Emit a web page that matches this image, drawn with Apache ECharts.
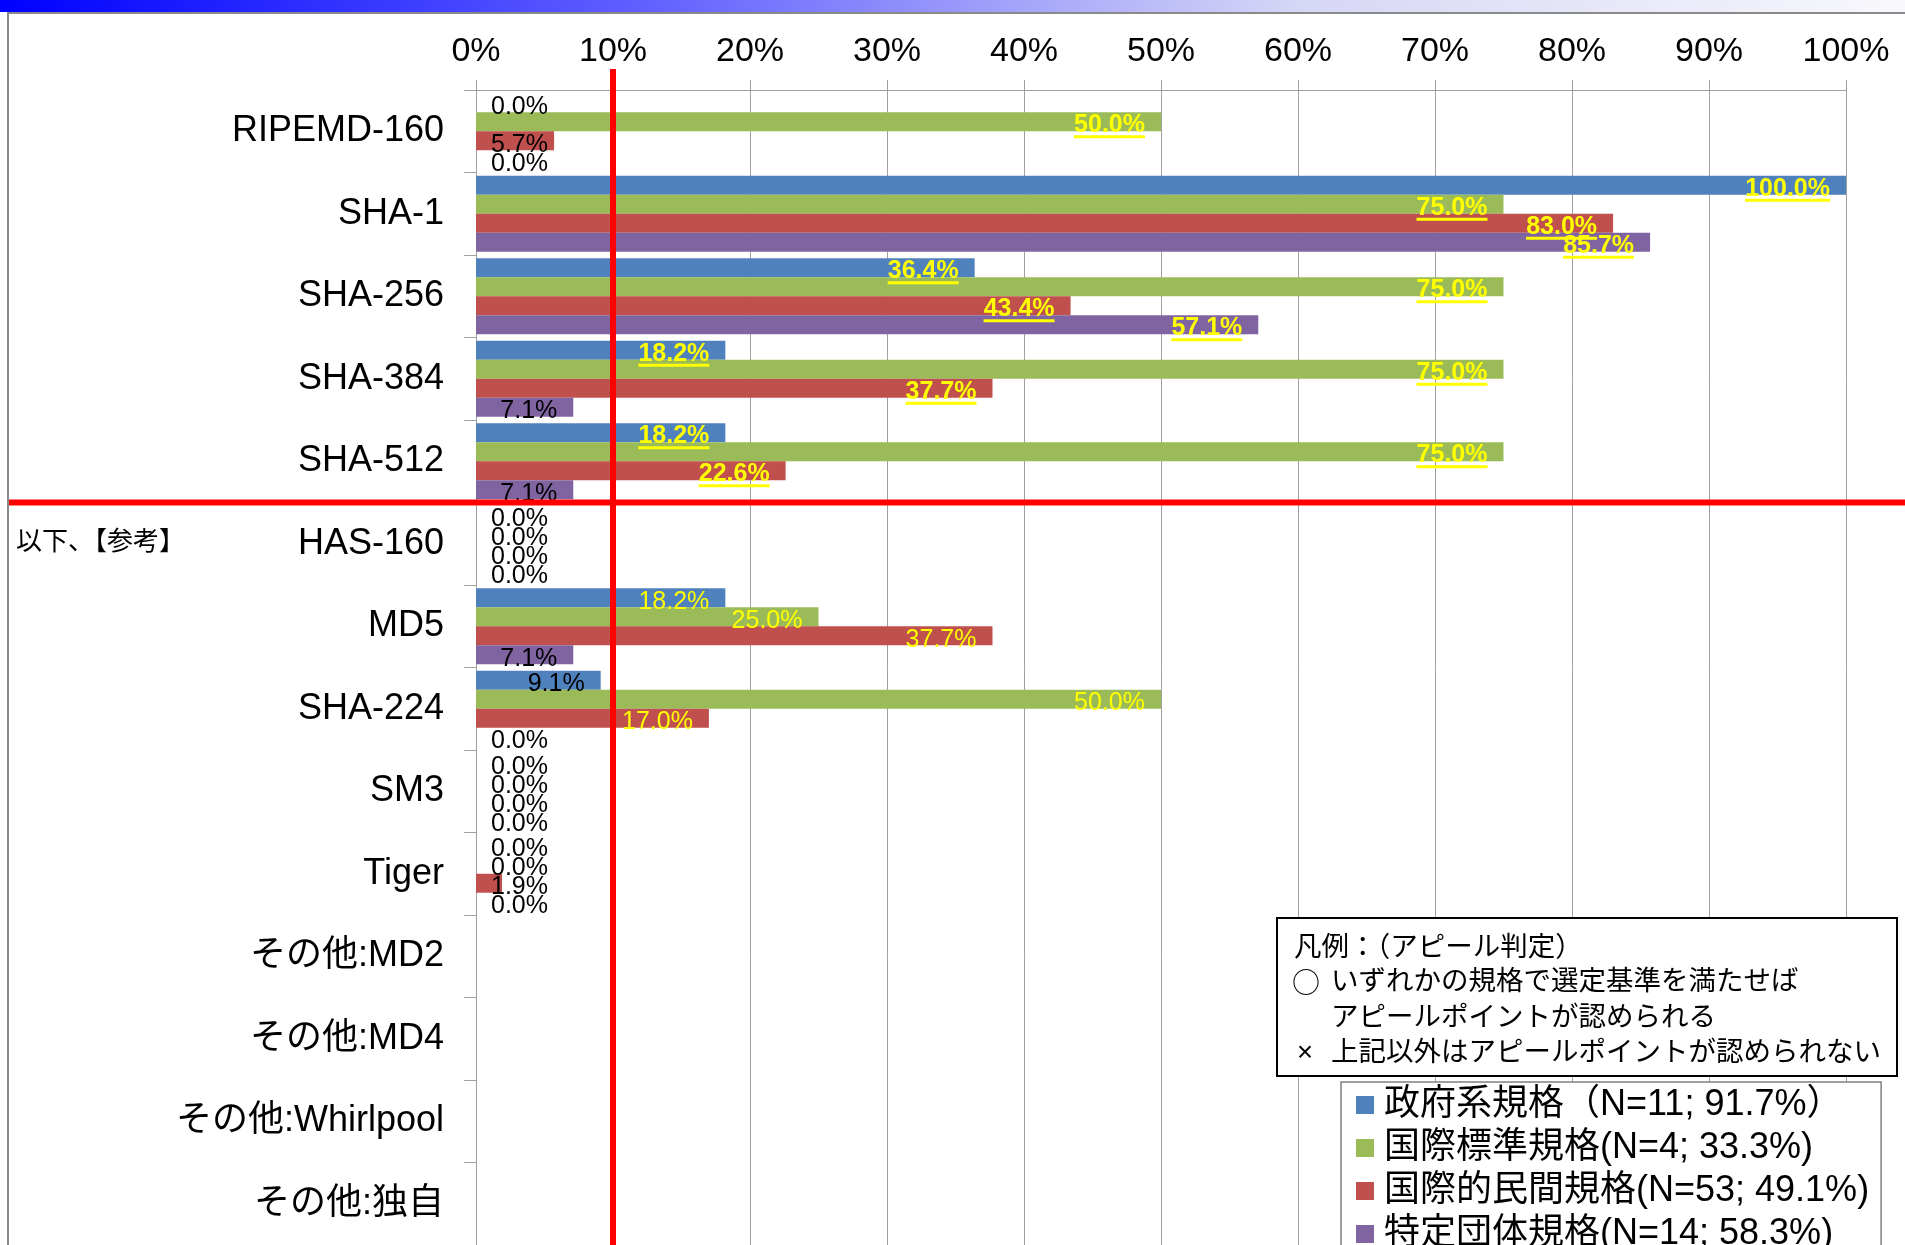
<!DOCTYPE html>
<html>
<head>
<meta charset="utf-8">
<title>ハッシュ関数 アピール判定</title>
<script src="https://cdn.jsdelivr.net/npm/echarts@6/dist/echarts.min.js"></script>
<style>
  html, body { margin: 0; padding: 0; background: #fff; }
  #chart { width: 1905px; height: 1245px; }
</style>
</head>
<body>
<div id="chart"></div>
<script>
const categories = [
  'RIPEMD-160', 'SHA-1', 'SHA-256', 'SHA-384', 'SHA-512',
  'HAS-160', 'MD5', 'SHA-224', 'SM3', 'Tiger',
  'その他：MD2', 'その他：MD4', 'その他：Whirlpool', 'その他：独自'
];
const seriesNames = [
  '政府系規格（N=11; 91.7%）',
  '国際標準規格(N=4; 33.3%)',
  '国際的民間規格(N=53; 49.1%)',
  '特定団体規格(N=14; 58.3%)'
];
const govValues  = [0, 100, 36.4, 18.2, 18.2, 0, 18.2, 9.1, 0, 0, null, null, null, null];
const isoValues  = [50, 75, 75, 75, 75, 0, 25.0, 50.0, 0, 0, null, null, null, null];
const privValues = [5.7, 83.0, 43.4, 37.7, 22.6, 0, 37.7, 17.0, 0, 1.9, null, null, null, null];
const orgValues  = [0, 85.7, 57.1, 7.1, 7.1, 0, 7.1, 0, 0, 0, null, null, null, null];
const noteLines = [
  '凡例：（アピール判定）',
  'いずれかの規格で選定基準を満たせば',
  'アピールポイントが認められる',
  '上記以外はアピールポイントが認められない'
];

const FONT = '"Liberation Sans", Arial, "Noto Sans CJK JP", sans-serif';
const CJK = '"Noto Sans CJK JP", sans-serif';
const colors = ['#4F81BD', '#9BBB59', '#C0504D', '#8064A2'];
const mainCount = 5; // categories above the red line
const YELLOW = '#ffff00';

const chart = echarts.init(document.getElementById('chart'));

const measure = document.createElement('canvas').getContext('2d');
const textWidth = (txt, font) => {
  measure.font = font;
  return Math.ceil(measure.measureText(txt).width);
};

const makeItem = (value, idx) => {
  if (value == null) return '-';
  const txt = value.toFixed(1) + '%';
  if (value < 10) {
    const small = value < 6.5;
    return {
      value,
      label: {
        color: '#000',
        position: small ? 'insideLeft' : 'insideRight',
        distance: small ? 15 : 16,
      },
    };
  }
  if (idx < mainCount) {
    const w = textWidth(txt, 'bold 25px "Liberation Sans"');
    return {
      value,
      label: {
        formatter: '{t|' + txt + '}\n{u|}',
        offset: [0, 5],
        rich: {
          t: { color: YELLOW, fontWeight: 'bold', fontSize: 25, fontFamily: FONT, lineHeight: 20 },
          u: { width: w, height: 3, backgroundColor: YELLOW },
        },
      },
    };
  }
  return { value, label: { color: YELLOW } };
};

const allValues = [govValues, isoValues, privValues, orgValues];
const series = allValues.map((vals, i) => ({
  name: seriesNames[i],
  type: 'bar',
  barGap: '0%',
  barCategoryGap: '8%',
  itemStyle: { color: colors[i] },
  label: {
    show: true,
    position: 'insideRight',
    distance: 16,
    offset: [0, 4],
    fontSize: 25,
    fontFamily: FONT,
    color: YELLOW,
    formatter: p => (typeof p.value === 'number' ? p.value.toFixed(1) + '%' : ''),
  },
  data: vals.map(makeItem),
}));

chart.setOption({
  animation: false,
  backgroundColor: '#fff',
  grid: { left: 476, right: 59, top: 90, bottom: -7 },
  xAxis: {
    type: 'value',
    position: 'top',
    min: 0,
    max: 100,
    interval: 10,
    axisLine: { show: true, lineStyle: { color: '#a0a0a0', width: 1 } },
    axisTick: { show: true, length: 10, lineStyle: { color: '#a0a0a0' } },
    axisLabel: { formatter: '{value}%', fontSize: 34, fontFamily: FONT, color: '#000', margin: 21 },
    splitLine: { show: true, lineStyle: { color: '#a0a0a0', width: 1 } },
  },
  yAxis: {
    type: 'category',
    inverse: true,
    data: categories,
    axisLine: { show: true, lineStyle: { color: '#a0a0a0' } },
    axisTick: { show: true, length: 12, lineStyle: { color: '#a0a0a0' } },
    axisLabel: {
      fontSize: 36,
      fontFamily: FONT,
      color: '#000',
      margin: 32,
      padding: [8, 0, 0, 0],
      // the original font sets the colon narrow
      formatter: v => v.replace('：', ':'),
    },
  },
  legend: {
    orient: 'vertical',
    left: 1341,
    top: 1082,
    height: 200,
    padding: [5, 12, 10, 15],
    itemWidth: 18,
    itemHeight: 18,
    itemGap: 7,
    icon: 'rect',
    selectedMode: false,
    backgroundColor: '#fff',
    borderColor: '#808080',
    borderWidth: 1.5,
    textStyle: { fontSize: 36, lineHeight: 35, fontFamily: FONT, color: '#000', padding: [0, 0, 0, 5] },
    data: seriesNames,
  },
  series,
});

const x10 = chart.convertToPixel({ xAxisIndex: 0 }, 10);
const yA = chart.convertToPixel({ yAxisIndex: 0 }, categories[mainCount - 1]);
const yB = chart.convertToPixel({ yAxisIndex: 0 }, categories[mainCount]);
const ySplit = (yA + yB) / 2;

const noteFont = '27.5px ' + FONT;
const symFont = '28px ' + CJK;
chart.setOption({
  graphic: [
    {
      type: 'rect', z: 100,
      shape: { x: 0, y: 0, width: 1905, height: 12 },
      style: {
        fill: new echarts.graphic.LinearGradient(0, 0, 1, 0, [
          { offset: 0, color: '#0000ff' },
          { offset: 0.35, color: '#6464ff' },
          { offset: 0.68, color: '#d6d6f6' },
          { offset: 1, color: '#f8f8fc' },
        ]),
      },
    },
    { type: 'line', z: 100, shape: { x1: 7, y1: 13, x2: 1905, y2: 13 }, style: { stroke: '#8a8a8a', lineWidth: 2 } },
    { type: 'line', z: 100, shape: { x1: 8, y1: 12, x2: 8, y2: 1245 }, style: { stroke: '#8a8a8a', lineWidth: 2 } },
    { type: 'line', z: 90, shape: { x1: x10, y1: 69, x2: x10, y2: 1245 }, style: { stroke: '#ff0000', lineWidth: 6 } },
    { type: 'line', z: 90, shape: { x1: 8, y1: ySplit, x2: 1905, y2: ySplit }, style: { stroke: '#ff0000', lineWidth: 6 } },
    {
      type: 'text', z: 100, x: 16, y: 540,
      style: { text: '以下、【参考】', font: '26px ' + CJK, fill: '#000', verticalAlign: 'middle' },
    },
    {
      type: 'rect', z: 100,
      shape: { x: 1277, y: 918, width: 620, height: 158 },
      style: { fill: '#fff', stroke: '#000', lineWidth: 2 },
    },
    { type: 'text', z: 101, x: 1294, y: 948, style: { text: noteLines[0], font: noteFont, fill: '#000', verticalAlign: 'middle' } },
    { type: 'text', z: 101, x: 1292, y: 982, style: { text: '○', font: symFont, fill: '#000', verticalAlign: 'middle' } },
    { type: 'text', z: 101, x: 1331, y: 982, style: { text: noteLines[1], font: noteFont, fill: '#000', verticalAlign: 'middle' } },
    { type: 'text', z: 101, x: 1331, y: 1018, style: { text: noteLines[2], font: noteFont, fill: '#000', verticalAlign: 'middle' } },
    { type: 'text', z: 101, x: 1297, y: 1053, style: { text: '×', font: noteFont, fill: '#000', verticalAlign: 'middle' } },
    { type: 'text', z: 101, x: 1331, y: 1053, style: { text: noteLines[3], font: noteFont, fill: '#000', verticalAlign: 'middle' } },
  ],
});
</script>
</body>
</html>
